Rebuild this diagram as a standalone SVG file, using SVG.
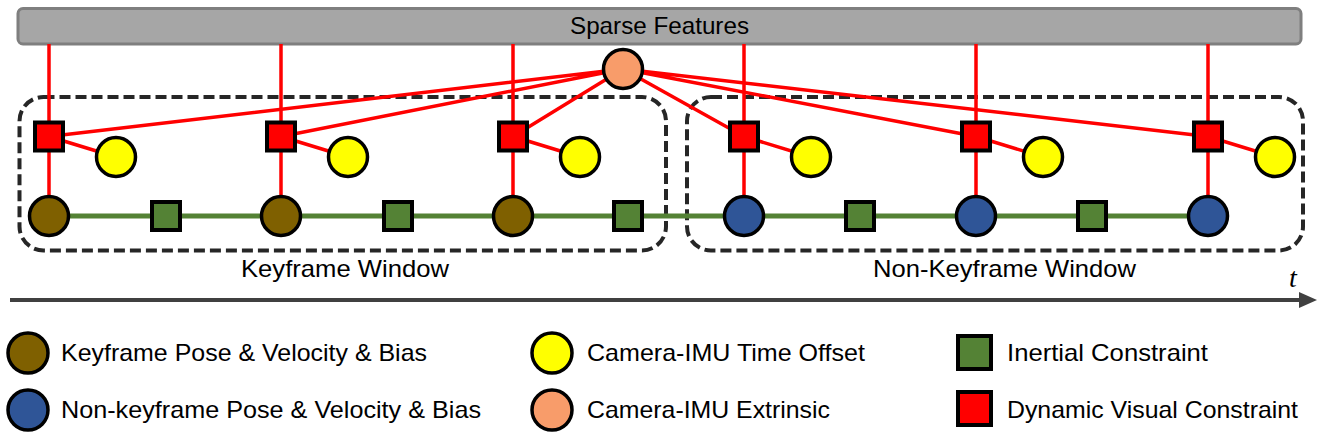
<svg xmlns="http://www.w3.org/2000/svg" width="1322" height="435" viewBox="0 0 1322 435">
<defs>
<style>
.lbl{font-family:"Liberation Sans",Arial,sans-serif;font-size:24px;fill:#000}
.win{fill:none;stroke:#262626;stroke-width:4;stroke-dasharray:11 5}
.red{stroke:#ff0000;stroke-width:3.5;fill:none}
.grn{stroke:#548235;stroke-width:5;fill:none}
.vis{fill:#ff0000;stroke:#000;stroke-width:4}
.ine{fill:#548235;stroke:#000;stroke-width:4}
.kf{fill:#7f6000;stroke:#000;stroke-width:3.5}
.nkf{fill:#2f5597;stroke:#000;stroke-width:3.5}
.td{fill:#ffff00;stroke:#000;stroke-width:3.5}
.ext{fill:#f89c6a;stroke:#000;stroke-width:3.5}
</style>
<marker id="arr" viewBox="0 0 10 10" refX="0" refY="5" markerWidth="18" markerHeight="16" markerUnits="userSpaceOnUse" orient="auto" preserveAspectRatio="none">
<path d="M0,0 L10,5 L0,10 Z" fill="#404040"/>
</marker>
</defs>
<rect width="1322" height="435" fill="#fff"/>

<g id="sparse-features">
<rect x="18" y="8.5" width="1283" height="35.5" rx="5" fill="#a6a6a6" stroke="#7f7f7f" stroke-width="3"/>
<text class="lbl" x="570" y="34" textLength="179" lengthAdjust="spacingAndGlyphs">Sparse Features</text>
</g>

<g id="keyframe-window">
<rect class="win" x="19.5" y="97" width="646.5" height="153.5" rx="24"/>
<text class="lbl" x="241" y="277" textLength="208" lengthAdjust="spacingAndGlyphs">Keyframe Window</text>
</g>
<g id="nonkeyframe-window">
<rect class="win" x="687" y="97" width="616" height="153.5" rx="24"/>
<text class="lbl" x="873" y="277" textLength="263" lengthAdjust="spacingAndGlyphs">Non-Keyframe Window</text>
</g>

<g id="connectors">
<path class="grn" d="M49,216 H1208"/>
<path class="red" d="M49,44 V216 M281,44 V216 M513,44 V216 M744,44 V216 M976,44 V216 M1208,44 V216"/>
<path class="red" d="M49,136.5 L116,157 M281,136.5 L348,157 M513,136.5 L580,157 M744,136.5 L811,157 M976,136.5 L1043,157 M1208,136.5 L1275,157"/>
<path class="red" d="M623,69 L49,136.5 M623,69 L281,136.5 M623,69 L513,136.5 M623,69 L744,136.5 M623,69 L976,136.5 M623,69 L1208,136.5"/>
</g>

<g id="time-axis">
<line x1="10" y1="300" x2="1299" y2="300" stroke="#404040" stroke-width="4" marker-end="url(#arr)"/>
<text x="1289" y="287" font-family="'Liberation Serif','DejaVu Serif',serif" font-style="italic" font-size="28">t</text>
</g>

<g id="extrinsic"><circle class="ext" cx="623" cy="69" r="19.5"/></g>

<g id="visual-1"><rect class="vis" x="35" y="122.5" width="28" height="28"/></g>
<g id="visual-2"><rect class="vis" x="267" y="122.5" width="28" height="28"/></g>
<g id="visual-3"><rect class="vis" x="499" y="122.5" width="28" height="28"/></g>
<g id="visual-4"><rect class="vis" x="730" y="122.5" width="28" height="28"/></g>
<g id="visual-5"><rect class="vis" x="962" y="122.5" width="28" height="28"/></g>
<g id="visual-6"><rect class="vis" x="1194" y="122.5" width="28" height="28"/></g>

<g id="timeoffset-1"><circle class="td" cx="116" cy="157" r="19.5"/></g>
<g id="timeoffset-2"><circle class="td" cx="348" cy="157" r="19.5"/></g>
<g id="timeoffset-3"><circle class="td" cx="580" cy="157" r="19.5"/></g>
<g id="timeoffset-4"><circle class="td" cx="811" cy="157" r="19.5"/></g>
<g id="timeoffset-5"><circle class="td" cx="1043" cy="157" r="19.5"/></g>
<g id="timeoffset-6"><circle class="td" cx="1275" cy="157" r="19.5"/></g>

<g id="kf-1"><circle class="kf" cx="49" cy="216" r="19.5"/></g>
<g id="kf-2"><circle class="kf" cx="281" cy="216" r="19.5"/></g>
<g id="kf-3"><circle class="kf" cx="513" cy="216" r="19.5"/></g>
<g id="nkf-1"><circle class="nkf" cx="744" cy="216" r="19.5"/></g>
<g id="nkf-2"><circle class="nkf" cx="976" cy="216" r="19.5"/></g>
<g id="nkf-3"><circle class="nkf" cx="1208" cy="216" r="19.5"/></g>

<g id="inertial-1"><rect class="ine" x="152" y="202" width="28" height="28"/></g>
<g id="inertial-2"><rect class="ine" x="384" y="202" width="28" height="28"/></g>
<g id="inertial-3"><rect class="ine" x="614" y="202" width="28" height="28"/></g>
<g id="inertial-4"><rect class="ine" x="846" y="202" width="28" height="28"/></g>
<g id="inertial-5"><rect class="ine" x="1078" y="202" width="28" height="28"/></g>

<g id="legend">
<circle class="kf" cx="28" cy="353" r="20"/>
<text class="lbl" x="61" y="361" textLength="366" lengthAdjust="spacingAndGlyphs">Keyframe Pose &amp; Velocity &amp; Bias</text>
<circle class="nkf" cx="28" cy="410" r="20"/>
<text class="lbl" x="61" y="418" textLength="420" lengthAdjust="spacingAndGlyphs">Non-keyframe Pose &amp; Velocity &amp; Bias</text>
<circle class="td" cx="552" cy="353" r="20"/>
<text class="lbl" x="587" y="361" textLength="278" lengthAdjust="spacingAndGlyphs">Camera-IMU Time Offset</text>
<circle class="ext" cx="552" cy="410" r="20"/>
<text class="lbl" x="587" y="418" textLength="243" lengthAdjust="spacingAndGlyphs">Camera-IMU Extrinsic</text>
<rect class="ine" x="958" y="336" width="33" height="33"/>
<text class="lbl" x="1007" y="361" textLength="201" lengthAdjust="spacingAndGlyphs">Inertial Constraint</text>
<rect class="vis" x="958" y="392" width="33" height="33"/>
<text class="lbl" x="1007" y="418" textLength="291" lengthAdjust="spacingAndGlyphs">Dynamic Visual Constraint</text>
</g>
</svg>
